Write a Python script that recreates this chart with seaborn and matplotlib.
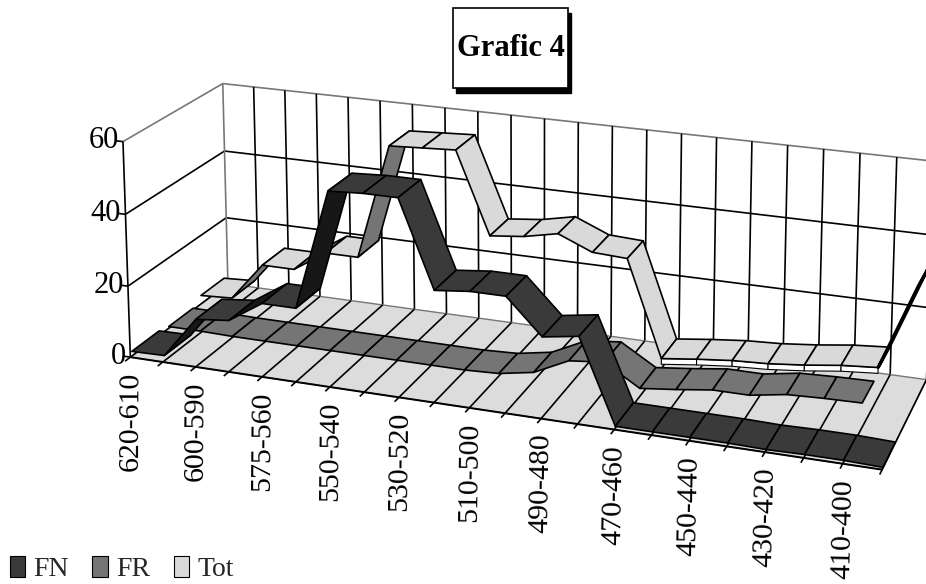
import numpy as np
import matplotlib
matplotlib.use("Agg")
import matplotlib.pyplot as plt
import seaborn as sns
from matplotlib.patches import Rectangle, Patch
from mpl_toolkits.mplot3d.art3d import Poly3DCollection

# ---- data ----
series_names = ["FN", "FR", "Tot"]
tick_labels = ["620-610", "600-590", "575-560", "550-540", "530-520", "510-500",
               "490-480", "470-460", "450-440", "430-420", "410-400"]
y_ticks = [0, 20, 40, 60]
fn_values = [1.3, 1.5, 13, 14, 20, 20, 53, 53.5, 53.5, 30, 31, 31, 21.5, 23, 0.5, 0.5, 0.5, 0.5, 0.3, 0.5, 0.5, 0.2]
fr_values = [0.5, 0.5, 0.3, 0.3, 0.3, 0.3, 0.3, 0.3, 0.3, 0.3, 0.7, 2.4, 7, 8, 2.2, 3.3, 4.6, 4.6, 6.2, 6.6, 6.8, np.nan]
tot_values = [2.5, 3, 14, 14, 20, 20, 53, 53.5, 54, 31, 32, 34, 30, 29.5, 2.8, 4, 5, 5.5, 6.5, 7.8, 8.6, 32]

W, H = 926, 584
sns.set_theme(style="white")
plt.rcParams["font.family"] = ["Liberation Serif", "DejaVu Serif"]
dark, mid, light = sns.color_palette(["#3a3a3a", "#757575", "#d9d9d9"])
floor_col = "#dcdcdc"

fig = plt.figure(figsize=(W / 100, H / 100), dpi=100, facecolor="white")
ax = fig.add_axes([0, 0, 1, 1], projection="3d")
ax.set_axis_off()
ax.computed_zorder = False
ax.apply_aspect = lambda position=None: None

n_x = len(fn_values) - 1

# ---- camera: fit a projective map of the chart box onto the picture ----
anchors = [((0, 0, 0), (130, 355)), ((n_x, 0, 0), (882, 470)), ((n_x, 1, 0), (926, 378)),
           ((0, 1, 0), (227, 285)), ((0, 0, 60), (122, 142)), ((0, 1, 60), (223, 82)),
           ((n_x, 1, 60), (933, 161))]
S = np.diag([1 / n_x, 1, 1 / 60, 1])
A = []
for (x, d, z), (u, v) in anchors:
    X = [x / n_x, d, z / 60, 1]
    u, v = u / W, v / H
    A.append(X + [0, 0, 0, 0] + [-u * c for c in X])
    A.append([0, 0, 0, 0] + X + [-v * c for c in X])
P = np.linalg.svd(np.array(A))[2][-1].reshape(3, 4) @ S
if (P[2] @ np.array([0, 0, 0, 1])) < 0:
    P = -P


def get_proj():
    x0, x1 = ax.viewLim.intervalx
    y0, y1 = ax.viewLim.intervaly
    row_u = x0 * P[2] + (x1 - x0) * P[0]
    row_v = y1 * P[2] - (y1 - y0) * P[1]
    return np.vstack([row_u, row_v, [0, 1, 0, 0.001], P[2]])


ax.get_proj = get_proj


def poly(verts, fc, ec="black", lw=1.0, zo=2):
    c = Poly3DCollection([verts], facecolors=fc, edgecolors=ec, linewidths=lw, zorder=zo)
    ax.add_collection3d(c, autolim=False)


def line(xs, ds, zs, color="black", lw=1.2, zo=1):
    c = Poly3DCollection([list(zip(xs, ds, zs))], facecolors=color, edgecolors=color,
                         linewidths=lw, zorder=zo)
    ax.add_collection3d(c, autolim=False)


# ---- walls and floor ----
grey = "#777777"
for z in y_ticks[1:]:
    c = grey if z == 60 else "black"
    line([0, 0], [0, 1], [z, z], color=c)
    line([0, n_x], [1, 1], [z, z], color=c)
    line([-0.2, 0], [0, 0], [z, z])
line([-0.2, 0], [0, 0], [0, 0])
line([0, 0], [0, 0], [0, 60])
line([0, 0], [1, 1], [0, 60], color=grey)
for i in range(1, n_x + 1):
    line([i, i], [1, 1], [0, 60])
poly([(0, 0, 0), (n_x, 0, 0), (n_x, 1, 0), (0, 1, 0)], floor_col, ec=grey, lw=1.0, zo=1.5)
for i in range(n_x + 1):
    line([i, i], [-0.05, 1], [0, 0], zo=1.6)
line([0, n_x], [0, 0], [0, 0], lw=1.4, zo=1.6)

# ---- ribbons ----
depths = {"Tot": (0.71, 0.96), "FR": (0.375, 0.625), "FN": (0.015, 0.28)}
values = {"FN": fn_values, "FR": fr_values, "Tot": tot_values}
flat_col = {"FN": dark, "FR": mid, "Tot": light}
rise_col = {"FN": "#171717", "FR": "#666666", "Tot": "#757575"}
zo = 3
for name in ["Tot", "FR", "FN"]:
    vals = values[name]
    d0, d1 = depths[name]
    for i in range(n_x):
        a, b = vals[i], vals[i + 1]
        if np.isnan(a) or np.isnan(b):
            continue
        if name == "Tot" and 14 <= i < 20:
            poly([(i, d0, a), (i + 1, d0, b), (i + 1, d0, b - 1.6), (i, d0, a - 1.6)],
                 "white", lw=0.8, zo=zo)
            zo += 0.01
        fc = rise_col[name] if b - a > 4 else flat_col[name]
        lw = 1.2
        if name == "Tot" and i == 20:
            fc, lw = "black", 2.2
        poly([(i, d0, a), (i + 1, d0, b), (i + 1, d1, b), (i, d1, a)], fc, lw=lw, zo=zo)
        zo += 0.01

# ---- axis labels ----
for k, lab in enumerate(tick_labels):
    lean = 0.0045 - 0.00035 * k
    ax.text(2 * k + 0.53 - 0.028 * k, -0.15, 0, lab, zdir=(lean, 0, 1), fontsize=21.5,
            ha="right", va="center", rotation_mode="anchor", color="black", zorder=20)
for z in y_ticks:
    ax.text(-0.12, 0, z, str(z), fontsize=22, ha="right", va="center", color="black", zorder=20)

# ---- title box ----
fig.add_artist(Rectangle((456 / W, 1 - 93 / H), 115 / W, 80 / H, transform=fig.transFigure,
                         fc="black", ec="black", zorder=30))
fig.add_artist(Rectangle((453 / W, 1 - 88 / H), 115 / W, 80 / H, transform=fig.transFigure,
                         fc="white", ec="black", lw=1.2, zorder=31))
fig.text(510.5 / W, 1 - 49 / H, "Grafic 4", fontsize=22, fontweight="bold", ha="center",
         va="center", color="black", zorder=32)

# ---- legend ----
handles = [Patch(fc=c, ec="black", lw=0.8) for c in (dark, mid, light)]
fig.legend(handles, series_names, loc="lower left", bbox_to_anchor=(4 / W, -4 / H), ncol=3,
           frameon=False, fontsize=20, handlelength=0.55, handleheight=0.8, handletextpad=0.3,
           columnspacing=0.85, borderpad=0.2, borderaxespad=0)

fig.savefig("out.png", dpi=100, facecolor="white")
